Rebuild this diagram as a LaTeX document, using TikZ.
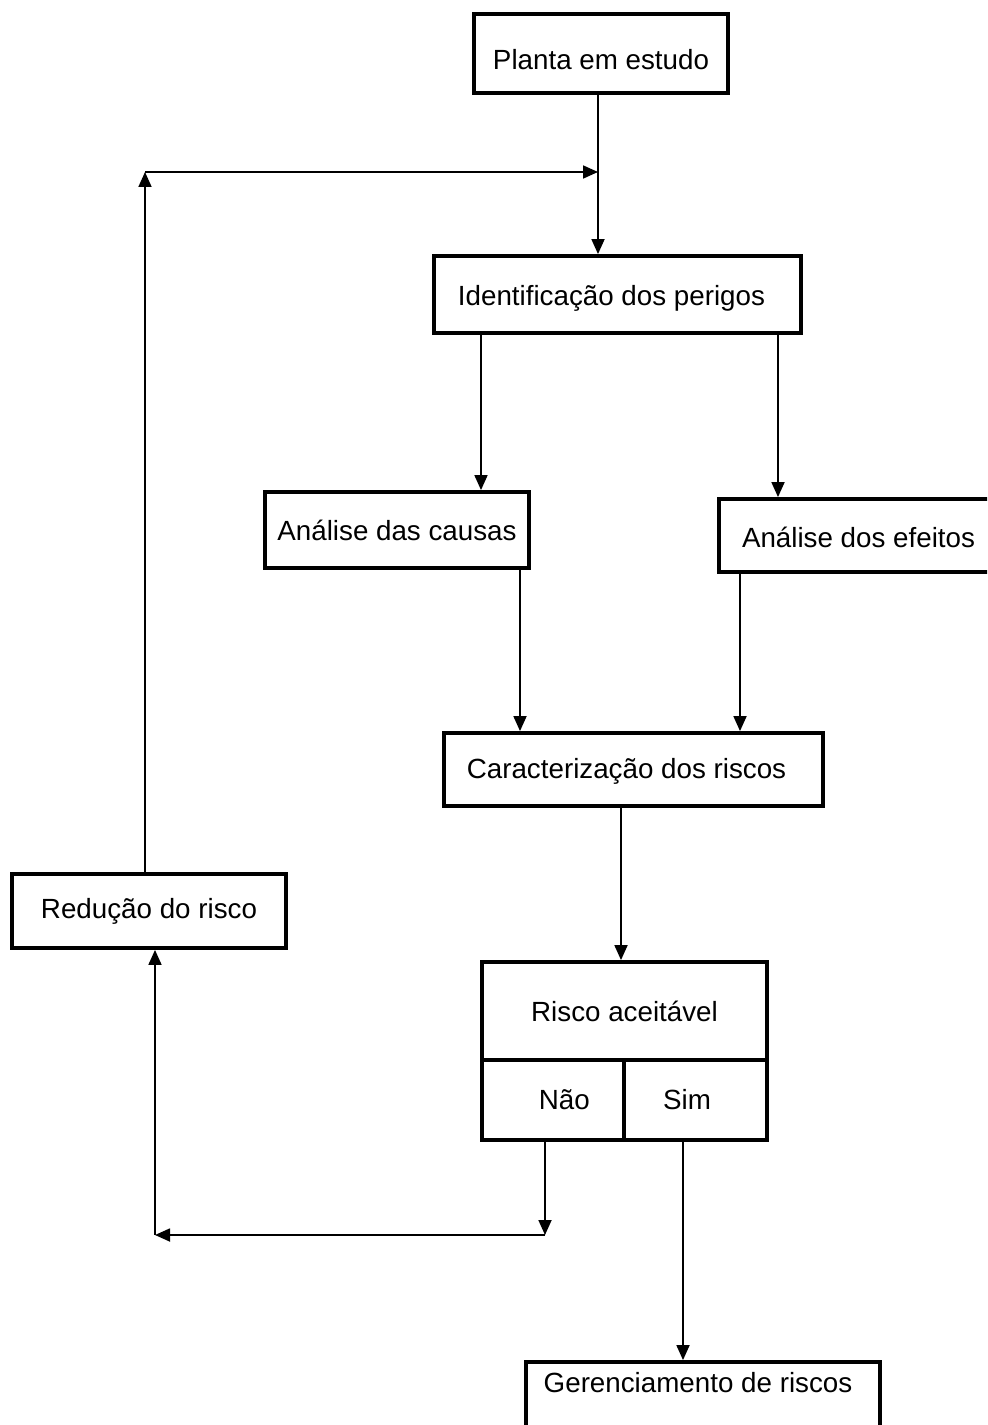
\documentclass[tikz,border=0pt]{standalone}
\usepackage{fontspec}
\setmainfont{Liberation Sans}
\usetikzlibrary{arrows.meta}
% lower a label inside its box without changing the box's measured size
\newcommand{\lowertext}[2]{\raisebox{-#1}[\height][\depth]{#2}}
\begin{document}
\begin{tikzpicture}[x=0.02cm,y=-0.02cm,
  box/.style={draw, line width=2.2pt, rectangle, inner sep=0pt,
    font=\fontsize{15.8}{19}\selectfont},
  arr/.style={line width=1pt, -{Triangle[length=0.3cm,width=0.26cm]}},
  ln/.style={line width=1pt}]
\useasboundingbox (0,0) rectangle (987,1425);
\clip (0,0) rectangle (987,1425);
\fill[white] (0,0) rectangle (987,1425);

% process boxes
\node[box, minimum width=5.08cm, minimum height=1.58cm] (plant) at (601,53.5) {\lowertext{0.13cm}{Planta em estudo}};
\node[box, minimum width=7.34cm, minimum height=1.54cm] (ident) at (617.5,294.5) {\lowertext{0.07cm}{Identificação dos perigos}\kern0.24cm};
\node[box, minimum width=5.28cm, minimum height=1.52cm] (causes) at (397,530) {Análise das causas};
\node[box, minimum width=5.58cm, minimum height=1.46cm] (effects) at (858.5,535.5) {\lowertext{0.03cm}{Análise dos efeitos}};
\node[box, minimum width=7.58cm, minimum height=1.46cm] (charact) at (633.5,769.5) {\lowertext{0.03cm}{Caracterização dos riscos}\kern0.28cm};
\node[box, minimum width=5.48cm, minimum height=1.48cm] (reduce) at (149,911) {Redução do risco};

% decision block
\node[box, minimum width=5.70cm, minimum height=1.96cm] (accept) at (624.5,1011) {Risco aceitável};
\node[box, minimum width=2.84cm, minimum height=1.60cm] (nao) at (553,1100) {\kern0.45cm Não};
\node[box, minimum width=2.86cm, minimum height=1.60cm] (sim) at (695.5,1100) {Sim\kern0.34cm};

\node[box, minimum width=7.08cm, minimum height=1.32cm,
  text depth=0.55cm, text height=0.45cm] (manage) at (703,1395) {Gerenciamento de riscos\kern0.2cm};

% loop-back coordinates
\coordinate (merge) at (598,172);
\coordinate (loopcorner) at (145,172);
\coordinate (naoturn) at (545,1235);
\coordinate (leftturn) at (155,1235);

% connectors
\draw[ln] (plant.south -| merge) -- (merge);
\draw[arr] (merge) -- (ident.north -| merge);
\draw[arr] (reduce.north -| loopcorner) -- (loopcorner);
\draw[arr] (loopcorner) -- (merge);

\draw[arr] (ident.south -| 481,0) -- (causes.north -| 481,0);
\draw[arr] (ident.south -| 778,0) -- (effects.north -| 778,0);
\draw[arr] (causes.south -| 520,0) -- (charact.north -| 520,0);
\draw[arr] (effects.south -| 740,0) -- (charact.north -| 740,0);
\draw[arr] (charact.south -| 621,0) -- (accept.north -| 621,0);

\draw[arr] (nao.south -| naoturn) -- (naoturn);
\draw[arr] (naoturn) -- (leftturn);
\draw[arr] (leftturn) -- (reduce.south -| leftturn);

\draw[arr] (sim.south -| 683,0) -- (manage.north -| 683,0);
\end{tikzpicture}
\end{document}
